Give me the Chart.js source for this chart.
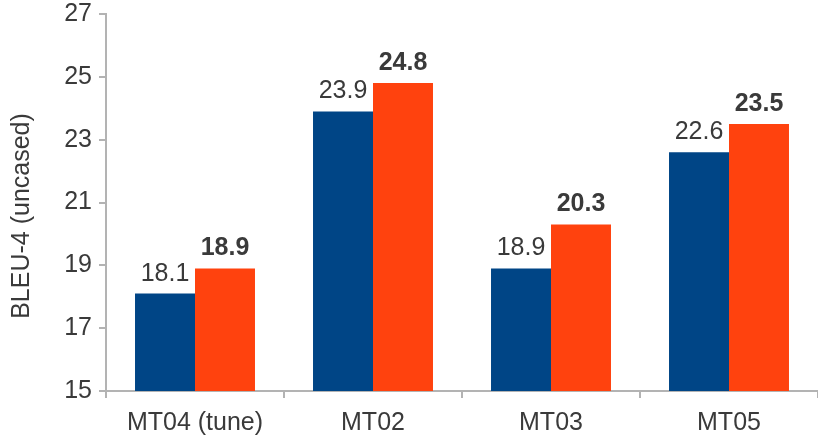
<!DOCTYPE html>
<html>
<head>
<meta charset="utf-8">
<script src="https://cdn.jsdelivr.net/npm/chart.js@4/dist/chart.umd.min.js"></script>
<style>
html,body{margin:0;padding:0;background:#fff;}
#wrap{width:818px;height:439px;position:relative;}
</style>
</head>
<body>
<div id="wrap"><canvas id="c" width="818" height="439"></canvas></div>
<script>
const categories = ["MT04 (tune)", "MT02", "MT03", "MT05"];
const baselineValues = [18.1, 23.9, 18.9, 22.6];
const improvedValues = [18.9, 24.8, 20.3, 23.5];
const yTicks = [15, 17, 19, 21, 23, 25, 27];
const yTitle = "BLEU-4 (uncased)";

const FONT = "'Liberation Sans', Arial, Helvetica, sans-serif";
const TEXT = "#3a3a3a";
const AXIS = "#b3b3b3";
const FS = 25;

const valueLabels = {
  id: 'valueLabels',
  afterDatasetsDraw(chart) {
    const ctx = chart.ctx;
    ctx.save();
    ctx.fillStyle = TEXT;
    ctx.textAlign = 'center';
    ctx.textBaseline = 'alphabetic';
    chart.data.datasets.forEach((ds, di) => {
      const meta = chart.getDatasetMeta(di);
      ctx.font = (di === 1 ? 'bold ' : '') + FS + 'px ' + FONT;
      meta.data.forEach((bar, i) => {
        ctx.fillText(ds.data[i].toFixed(1), bar.x, bar.y - 13);
      });
    });
    ctx.restore();
  }
};

const yTitlePlugin = {
  id: 'yTitlePlugin',
  afterDraw(chart) {
    const ctx = chart.ctx;
    ctx.save();
    ctx.fillStyle = TEXT;
    ctx.font = FS + 'px ' + FONT;
    ctx.textAlign = 'center';
    ctx.textBaseline = 'middle';
    ctx.translate(22, 216);
    ctx.rotate(-Math.PI / 2);
    ctx.fillText(yTitle, 0, 0);
    ctx.restore();
  }
};

new Chart(document.getElementById('c'), {
  type: 'bar',
  data: {
    labels: categories,
    datasets: [
      { data: baselineValues, backgroundColor: '#004586', borderWidth: 0 },
      { data: improvedValues, backgroundColor: '#ff420e', borderWidth: 0 }
    ]
  },
  options: {
    responsive: false,
    animation: false,
    devicePixelRatio: 1,
    layout: { padding: { top: 14, right: 0, left: 0, bottom: 0 } },
    plugins: { legend: { display: false }, tooltip: { enabled: false } },
    datasets: { bar: { categoryPercentage: 0.674, barPercentage: 1.0 } },
    scales: {
      x: {
        grid: { display: true, offset: true, drawOnChartArea: false, drawTicks: true, tickLength: 7, color: AXIS, lineWidth: 2 },
        border: { display: true, color: AXIS, width: 2 },
        ticks: { color: TEXT, font: { family: FONT, size: FS }, padding: 10, maxRotation: 0, autoSkip: false },
        afterFit(scale) { scale.height = 48; scale.paddingLeft = 0; scale.paddingRight = 0; }
      },
      y: {
        min: 15, max: 27,
        afterBuildTicks(scale) { scale.ticks = yTicks.map(v => ({ value: v })); },
        grid: { display: true, drawOnChartArea: false, drawTicks: true, tickLength: 7, color: AXIS, lineWidth: 2 },
        border: { display: true, color: AXIS, width: 2 },
        ticks: { color: TEXT, font: { family: FONT, size: FS }, padding: 7 },
        afterFit(scale) { scale.width = 106; scale.paddingTop = 0; scale.paddingBottom = 0; }
      }
    }
  },
  plugins: [valueLabels, yTitlePlugin]
});
</script>
</body>
</html>
